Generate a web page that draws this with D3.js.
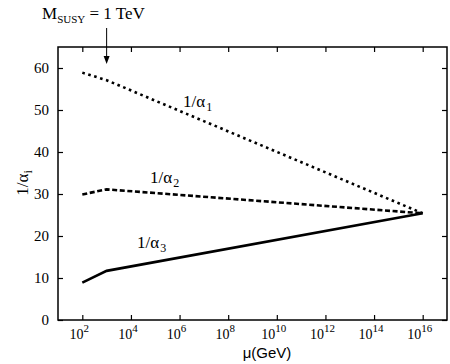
<!DOCTYPE html>
<html>
<head>
<meta charset="utf-8">
<script src="https://cdn.jsdelivr.net/npm/d3@7"></script>
<style>
  body { margin: 0; background: #fff; }
</style>
</head>
<body>
<div id="chart"></div>
<script>
// values (log10 of mu in GeV)
var logMu = [2, 3, 16];
var invAlpha1 = [58.9, 57.1, 25.4];
var invAlpha2 = [29.9, 31.1, 25.4];
var invAlpha3 = [8.9, 11.7, 25.4];
var xTickExp = [2, 4, 6, 8, 10, 12, 14, 16];
var yTicks = [0, 10, 20, 30, 40, 50, 60];
var seriesNames = ["1", "2", "3"];

var SERIF = "'Liberation Serif', 'Times New Roman', Times, serif";

var margin = { top: 47, right: 3, bottom: 44, left: 58 },
  width = 450 - margin.left - margin.right,
  height = 364 - margin.top - margin.bottom;

var svg = d3.select("#chart")
  .append("svg")
  .attr("width", 450)
  .attr("height", 364);

var g = svg.append("g")
  .attr("transform", "translate(" + margin.left + "," + margin.top + ")");

var x = d3.scaleLog().domain([1e1, 1e17]).range([0, width]);
var y = d3.scaleLinear().domain([0, 65]).range([height, 0]);

var xVals = xTickExp.map(function(e) { return Math.pow(10, e); });

// ticks (inward, mirrored on top/right)
var xAxisB = d3.axisBottom(x).tickValues(xVals).tickSize(-5).tickFormat("");
var xAxisT = d3.axisTop(x).tickValues(xVals).tickSize(-5).tickFormat("");
var yAxisL = d3.axisLeft(y).tickValues(yTicks).tickSize(-5).tickFormat("");
var yAxisR = d3.axisRight(y).tickValues(yTicks).tickSize(-5).tickFormat("");

g.append("g").attr("transform", "translate(0," + height + ")").call(xAxisB);
g.append("g").call(xAxisT);
g.append("g").call(yAxisL);
g.append("g").attr("transform", "translate(" + width + ",0)").call(yAxisR);
g.selectAll(".domain").remove();
g.selectAll(".tick line").attr("stroke", "#000").attr("stroke-width", 1.2);

g.append("rect")
  .attr("x", 0).attr("y", 0)
  .attr("width", width).attr("height", height)
  .attr("fill", "none").attr("stroke", "#000").attr("stroke-width", 1.5);

// y tick labels
g.selectAll(".ylab")
  .data(yTicks)
  .enter().append("text")
  .attr("x", -9)
  .attr("y", function(d) { return y(d) + 5; })
  .attr("text-anchor", "end")
  .style("font-family", SERIF)
  .style("font-size", "15px")
  .text(function(d) { return d; });

// x tick labels 10^n
var xl = g.selectAll(".xlab")
  .data(xTickExp)
  .enter().append("text")
  .attr("x", function(d) { return x(Math.pow(10, d)) - 3; })
  .attr("y", height + 19)
  .attr("text-anchor", "middle")
  .style("font-family", SERIF)
  .style("font-size", "14px");
xl.append("tspan").text("10");
xl.append("tspan")
  .attr("dy", -7)
  .style("font-size", "11px")
  .text(function(d) { return d; });

// axis titles
svg.append("text")
  .attr("x", 267)
  .attr("y", 358)
  .attr("text-anchor", "middle")
  .style("font-family", "'Liberation Sans', Arial, sans-serif")
  .style("font-size", "15px")
  .text("\u03bc(GeV)");

var yt = svg.append("text")
  .attr("transform", "translate(28,183) rotate(-90)")
  .attr("text-anchor", "middle")
  .style("font-family", SERIF)
  .style("font-size", "17px");
yt.append("tspan").text("1/\u03b1");
yt.append("tspan").attr("dy", 4).style("font-size", "12px").text("i");

// curves
var line = d3.line()
  .x(function(d) { return x(Math.pow(10, d[0])); })
  .y(function(d) { return y(d[1]); });

function pts(vals) { return logMu.map(function(m, i) { return [m, vals[i]]; }); }

g.append("path")
  .datum(pts(invAlpha1))
  .attr("d", line)
  .attr("fill", "none").attr("stroke", "#000")
  .attr("stroke-width", 2.6)
  .attr("stroke-dasharray", "2.6,3.6");

g.append("path")
  .datum(pts(invAlpha2))
  .attr("d", line)
  .attr("fill", "none").attr("stroke", "#000")
  .attr("stroke-width", 2.6)
  .attr("stroke-dasharray", "5,2.6");

g.append("path")
  .datum(pts(invAlpha3))
  .attr("d", line)
  .attr("fill", "none").attr("stroke", "#000")
  .attr("stroke-width", 2.6);

// curve labels
var labelPos = [[183, 107], [150, 183], [137, 248]];
seriesNames.forEach(function(n, i) {
  var t = svg.append("text")
    .attr("x", labelPos[i][0])
    .attr("y", labelPos[i][1])
    .style("font-family", SERIF)
    .style("font-size", "17px");
  t.append("tspan").text("1/\u03b1");
  t.append("tspan").attr("dx", 1).attr("dy", 4).style("font-size", "12px").text(n);
});

// M_SUSY annotation
var ann = svg.append("text")
  .attr("x", 42)
  .attr("y", 19)
  .style("font-family", SERIF)
  .style("font-size", "17px");
ann.append("tspan").text("M");
ann.append("tspan").attr("dy", 4).style("font-size", "11px").text("SUSY");
ann.append("tspan").attr("dy", -4).text(" = 1 TeV");

var ax = margin.left + x(1e3);
svg.append("line")
  .attr("x1", ax).attr("x2", ax)
  .attr("y1", 28).attr("y2", 58)
  .attr("stroke", "#000").attr("stroke-width", 1);
svg.append("path")
  .attr("d", "M" + (ax - 3) + ",56 L" + (ax + 3) + ",56 L" + ax + ",64 Z")
  .attr("fill", "#000");
</script>
</body>
</html>
